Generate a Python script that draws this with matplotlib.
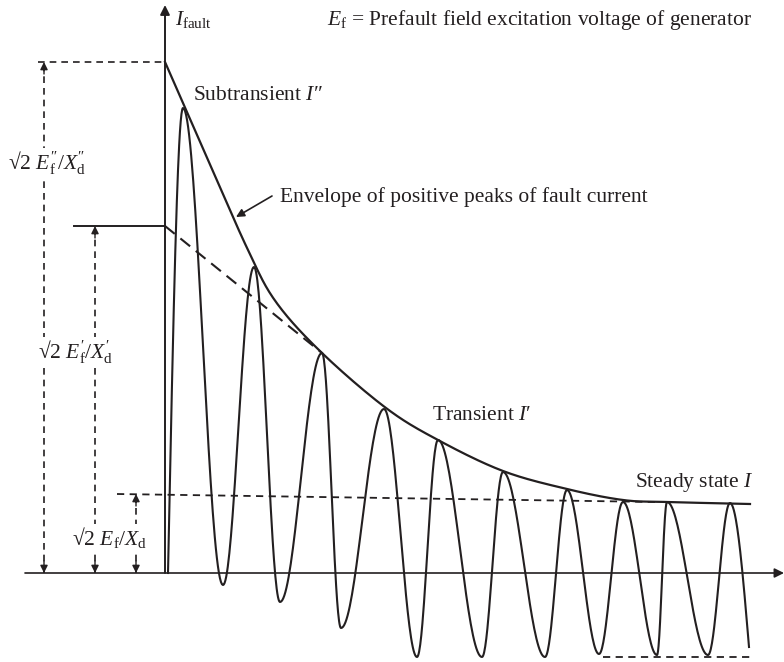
"""
    fault current envelope sketch
"""

import numpy as np
import matplotlib
matplotlib.use("Agg")
from matplotlib import pyplot as plt

plt.rcParams['font.family'] = ['Liberation Serif', 'DejaVu Serif']
plt.rcParams['mathtext.fontset'] = 'custom'
plt.rcParams['mathtext.rm'] = 'Liberation Serif'
plt.rcParams['mathtext.it'] = 'Liberation Serif:italic'

INK = "#231f20"

# wave extrema (time, current), start -> peaks/troughs -> end
wave_t = [3, 18, 58, 89, 115, 157, 176, 219, 252, 273, 317, 338, 380, 402, 434, 458, 492, 502, 543, 565, 584]
wave_i = [0, 465, -12, 306, -29, 220, -55, 164, -84, 133, -84, 101, -84, 83, -81, 71, -82, 71, -82, 70, -74]

# envelope of positive peaks
env_t = [0, 43, 83, 111, 157, 221, 273, 338, 402, 458, 502, 585]
env_i = [511, 413, 323, 271, 220, 165, 133, 102, 84, 73, 71, 69]

# levels
lvl_sub = 511      # sqrt2 E''/X''
lvl_tr = 347       # sqrt2 E'/X'
lvl_ss = [79, 71]  # sqrt2 E/X (drawn slightly sloping)
lvl_neg = -84


def wave_curve(tt, ii, n=40):
    xs, ys = [], []
    last = len(tt) - 2
    for k in range(len(tt) - 1):
        s = np.linspace(0, 1, n)
        x0, x1, y0, y1 = tt[k], tt[k+1], ii[k], ii[k+1]
        if k == 0 :
            f = np.sin(np.pi / 2 * s)
        elif k == last :
            f = 1 - np.cos(np.pi / 2 * s)
        else :
            f = (1 - np.cos(np.pi * s)) / 2
        xs.append(x0 + (x1 - x0) * s)
        ys.append(y0 + (y1 - y0) * f)
    return np.concatenate(xs), np.concatenate(ys)


def smooth(px, py, n=25):
    pts = np.column_stack([px, py]).astype(float)
    pts = np.vstack([pts[0], pts, pts[-1]])
    out = []
    for k in range(1, len(pts) - 2):
        p0, p1, p2, p3 = pts[k-1], pts[k], pts[k+1], pts[k+2]
        s = np.linspace(0, 1, n)[:, None]
        seg = 0.5 * ((2*p1) + (-p0 + p2)*s + (2*p0 - 5*p1 + 4*p2 - p3)*s**2 + (-p0 + 3*p1 - 3*p2 + p3)*s**3)
        out.append(seg)
    out = np.vstack(out)
    return out[:, 0], out[:, 1]


def vdim(ax, x, top):
    ax.plot([x, x], [0, top], color=INK, lw=1.2, ls=(0, (4, 3)))
    for a, b in [(top - 12, top), (12, 0)] :
        ax.annotate("", xy=(x, b), xytext=(x, a),
                    arrowprops=dict(arrowstyle="-|>", color=INK, lw=1.0, mutation_scale=11,
                                    shrinkA=0, shrinkB=0))


fig = plt.figure(figsize=(7.84, 6.62), dpi=100)
ax = fig.add_axes([0, 0, 1, 1])
ax.set_xlim(-165, 619)
ax.set_ylim(-89, 573)
ax.axis("off")

# axes
ax.annotate("", xy=(619, 0), xytext=(-140, 0),
            arrowprops=dict(arrowstyle="-|>", color=INK, lw=1.2, mutation_scale=14, shrinkA=0, shrinkB=0))
ax.annotate("", xy=(0, 568), xytext=(0, 0),
            arrowprops=dict(arrowstyle="-|>", color=INK, lw=1.4, mutation_scale=14, shrinkA=0, shrinkB=0))

# wave and envelope
wx, wy = wave_curve(wave_t, wave_i)
ax.plot(wx, wy, color=INK, lw=1.5)
ex, ey = smooth(env_t, env_i)
ax.plot(ex, ey, color=INK, lw=1.6)

# level lines
ax.plot([-127, 0], [lvl_sub, lvl_sub], color=INK, lw=1.2, ls=(0, (4, 3)))
ax.plot([-91, 0], [lvl_tr, lvl_tr], color=INK, lw=1.4)
ax.plot([0, 157], [lvl_tr, 220], color=INK, lw=1.5, ls=(0, (6, 3.5)))
ax.plot([-48, 492], lvl_ss, color=INK, lw=1.3, ls=(0, (4, 3)))
ax.plot([438, 585], [lvl_neg, lvl_neg], color=INK, lw=1.3, ls=(0, (4, 3)))

vdim(ax, -121, lvl_sub)
vdim(ax, -70, lvl_tr)
vdim(ax, -29, lvl_ss[0])

# labels
fs = 15.5
box = dict(fc="white", ec="none", pad=1.0)
ax.text(10, 553, r"$I_{\mathrm{fault}}$", fontsize=fs, color=INK, va="center")
ax.text(162, 553, r"$E_{\mathrm{f}}$ = Prefault field excitation voltage of generator", fontsize=fs, color=INK, va="center")
ax.text(28, 478, "Subtransient $I$\u2033", fontsize=fs, color=INK, va="center")
ax.text(115, 376, "Envelope of positive peaks of fault current", fontsize=fs, color=INK, va="center")
ax.annotate("", xy=(71, 356), xytext=(107, 377),
            arrowprops=dict(arrowstyle="-|>", color=INK, lw=1.2, mutation_scale=12, shrinkA=0, shrinkB=0))
ax.text(267, 158, "Transient $I$\u2032", fontsize=fs, color=INK, va="center")
ax.text(470, 91, r"Steady state $I$", fontsize=fs, color=INK, va="center")
ax.text(-157, 410, "√2 $E_{\\mathrm{f}}^{\u2033}/X_{\\mathrm{d}}^{\u2033}$", fontsize=fs, color=INK, va="center", bbox=box)
ax.text(-127, 221, "√2 $E_{\\mathrm{f}}^{\u2032}/X_{\\mathrm{d}}^{\u2032}$", fontsize=fs, color=INK, va="center", bbox=box)
ax.text(-93, 35, r"√2 $E_{\mathrm{f}}/X_{\mathrm{d}}$", fontsize=fs, color=INK, va="center", bbox=box)

fig.savefig("out.png", dpi=100)
